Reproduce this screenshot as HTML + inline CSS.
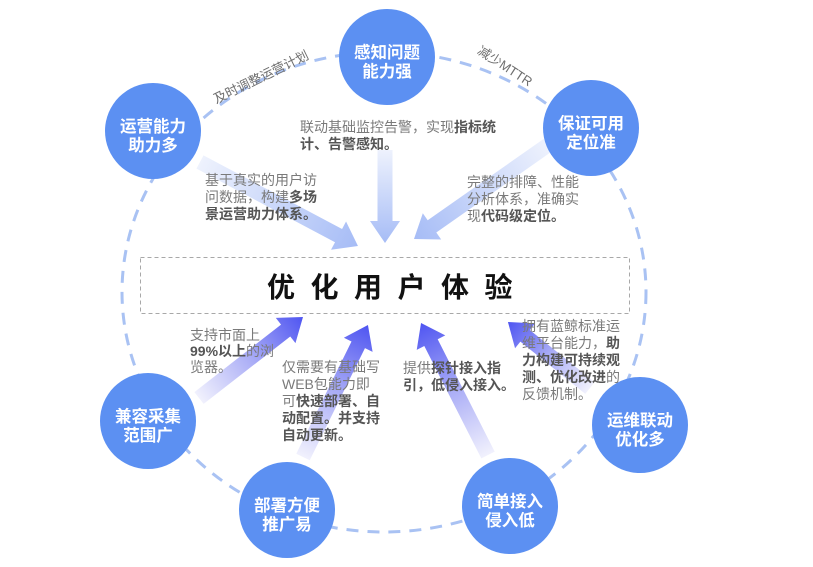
<!DOCTYPE html>
<html>
<head>
<meta charset="utf-8">
<style>
  html,body{margin:0;padding:0;background:#fff;}
  body{width:813px;height:567px;overflow:hidden;}
  svg{display:block;}
  .t{font-family:"Liberation Sans","Noto Sans CJK SC",sans-serif;font-size:14px;fill:#7a7a7a;}
  .b{font-weight:bold;fill:#555;}
  .c{font-family:"Liberation Sans","Noto Sans CJK SC",sans-serif;font-size:16.5px;font-weight:bold;fill:#fff;}
  .lab{font-family:"Liberation Sans","Noto Sans CJK SC",sans-serif;font-size:13px;fill:#6e6e6e;}
  .title{font-family:"Liberation Sans","Noto Sans CJK SC",sans-serif;font-size:28px;font-weight:bold;fill:#111;}
</style>
</head>
<body>
<svg width="813" height="567" viewBox="0 0 813 567" xmlns="http://www.w3.org/2000/svg">
  <defs>
    <linearGradient id="gt" x1="0" y1="0" x2="1" y2="0">
      <stop offset="0" stop-color="#eef2fd"/>
      <stop offset="1" stop-color="#a6bcf6"/>
    </linearGradient>
    <linearGradient id="gb" x1="0" y1="0" x2="1" y2="0">
      <stop offset="0" stop-color="#f1f1fd"/>
      <stop offset="0.5" stop-color="#a9acf6"/>
      <stop offset="1" stop-color="#4f55f1"/>
    </linearGradient>
  </defs>

  <!-- dashed big ellipse -->
  <ellipse cx="384" cy="292" rx="262" ry="240" fill="none" stroke="#a9c2f3" stroke-width="3" stroke-dasharray="12 9"/>

  <!-- central dashed box -->
  <rect x="140.5" y="257.5" width="489" height="56" fill="#fff" stroke="#a8a8a8" stroke-width="1" stroke-dasharray="4 3"/>
  <text class="title" x="267 310.5 354 397.5 441 484.5" y="297">优化用户体验</text>

  <!-- top arrows -->
  <g transform="translate(200,162) rotate(28)">
    <polygon points="0,-7.5 156.9,-7.5 156.9,-16 178.9,0 156.9,16 156.9,7.5 0,7.5" fill="url(#gt)"/>
  </g>
  <g transform="translate(385,150) rotate(90)">
    <polygon points="0,-7.5 71,-7.5 71,-15 93,0 71,15 71,7.5 0,7.5" fill="url(#gt)"/>
  </g>
  <g transform="translate(548,145) rotate(144.95)">
    <polygon points="0,-7.5 141.7,-7.5 141.7,-16 163.7,0 141.7,16 141.7,7.5 0,7.5" fill="url(#gt)"/>
  </g>

  <!-- bottom arrows -->
  <g transform="translate(199,398) rotate(-37.9)">
    <polygon points="0,-7.5 109.8,-7.5 109.8,-16 131.8,0 109.8,16 109.8,7.5 0,7.5" fill="url(#gb)"/>
  </g>
  <g transform="translate(303,457) rotate(-63.8)">
    <polygon points="0,-7.5 125.1,-7.5 125.1,-16 147.1,0 125.1,16 125.1,7.5 0,7.5" fill="url(#gb)"/>
  </g>
  <g transform="translate(488,455) rotate(-116.9)">
    <polygon points="0,-7.5 126,-7.5 126,-16 148,0 126,16 126,7.5 0,7.5" fill="url(#gb)"/>
  </g>
  <g transform="translate(590,388) rotate(-141.2)">
    <polygon points="0,-7.5 83.3,-7.5 83.3,-16 105.3,0 83.3,16 83.3,7.5 0,7.5" fill="url(#gb)"/>
  </g>

  <!-- arc labels -->
  <text class="lab" transform="translate(261,77) rotate(-26)" text-anchor="middle" dominant-baseline="central">及时调整运营计划</text>
  <text class="lab" transform="translate(505,66) rotate(33)" text-anchor="middle" dominant-baseline="central">减少MTTR</text>

  <!-- circles -->
  <g fill="#5c90f2">
    <circle cx="387" cy="57" r="48"/>
    <circle cx="153" cy="131" r="48"/>
    <circle cx="591" cy="128" r="48"/>
    <circle cx="148" cy="421" r="48"/>
    <circle cx="287" cy="510" r="48"/>
    <circle cx="510" cy="506" r="48"/>
    <circle cx="640" cy="425" r="48"/>
  </g>
  <g class="c" text-anchor="middle">
    <text x="387" y="58">感知问题</text><text x="387" y="77">能力强</text>
    <text x="153" y="132">运营能力</text><text x="153" y="151">助力多</text>
    <text x="591" y="129">保证可用</text><text x="591" y="148">定位准</text>
    <text x="148" y="422">兼容采集</text><text x="148" y="441">范围广</text>
    <text x="287" y="511">部署方便</text><text x="287" y="530">推广易</text>
    <text x="510" y="507">简单接入</text><text x="510" y="526">侵入低</text>
    <text x="640" y="426">运维联动</text><text x="640" y="445">优化多</text>
  </g>

  <!-- description texts -->
  <text class="t" x="300" y="132">联动基础监控告警，实现<tspan class="b">指标统</tspan></text>
  <text class="t b" x="300" y="149">计、告警感知。</text>

  <text class="t" x="205" y="185">基于真实的用户访</text>
  <text class="t" x="205" y="202">问数据，构建<tspan class="b">多场</tspan></text>
  <text class="t b" x="205" y="219">景运营助力体系。</text>

  <text class="t" x="467" y="187">完整的排障、性能</text>
  <text class="t" x="467" y="204">分析体系，准确实</text>
  <text class="t" x="467" y="221">现<tspan class="b">代码级定位。</tspan></text>

  <text class="t" x="190" y="340">支持市面上</text>
  <text class="t" x="190" y="356"><tspan class="b">99%以上</tspan>的浏</text>
  <text class="t" x="190" y="372">览器。</text>

  <text class="t" x="282" y="372">仅需要有基础写</text>
  <text class="t" x="282" y="389">WEB包能力即</text>
  <text class="t" x="282" y="406">可<tspan class="b">快速部署、自</tspan></text>
  <text class="t b" x="282" y="423">动配置。并支持</text>
  <text class="t b" x="282" y="440">自动更新。</text>

  <text class="t" x="403" y="373">提供<tspan class="b">探针接入指</tspan></text>
  <text class="t b" x="403" y="390">引，低侵入接入。</text>

  <text class="t" x="522" y="331">拥有蓝鲸标准运</text>
  <text class="t" x="522" y="348">维平台能力，<tspan class="b">助</tspan></text>
  <text class="t b" x="522" y="365">力构建可持续观</text>
  <text class="t" x="522" y="382"><tspan class="b">测、优化改进</tspan>的</text>
  <text class="t" x="522" y="399">反馈机制。</text>
</svg>
</body>
</html>
